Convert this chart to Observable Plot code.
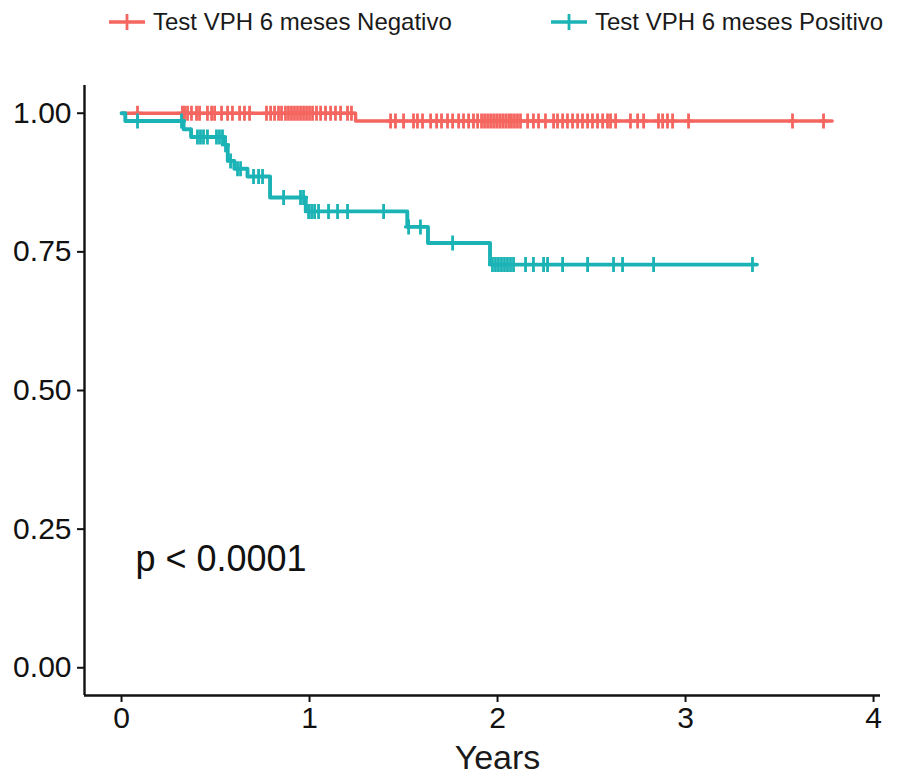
<!DOCTYPE html>
<html>
<head>
<meta charset="utf-8">
<script src="https://cdn.jsdelivr.net/npm/d3@7"></script>
<script src="https://cdn.jsdelivr.net/npm/@observablehq/plot@0.6"></script>
<style>
  html, body { margin: 0; padding: 0; background: white; }
  body { width: 903px; height: 778px; overflow: hidden; font-family: "Liberation Sans", Arial, Helvetica, sans-serif; }
  #legend { position: relative; height: 50px; width: 903px; font-size: 24px; color: #1a1a1a; }
  .item { position: absolute; top: 8px; display: flex; align-items: center; white-space: nowrap; }
  .item svg { margin-right: 7px; }
  #chart { position: absolute; top: 50px; left: 0; }
</style>
</head>
<body>
<div id="legend"></div>
<div id="chart"></div>
<script>
// ---- Data ----
const groups = ["Test VPH 6 meses Negativo", "Test VPH 6 meses Positivo"];
const colors = ["#F4665F", "#1BB3B5"];

// Negativo: step times and survival
const negTimes = [0, 1.245];
const negSurv  = [1.0, 0.986];
const negEnd   = 3.78;
const negCensor = [
  0.085, 0.324, 0.335, 0.351, 0.372, 0.399, 0.415, 0.457, 0.479, 0.495,
  0.532, 0.564, 0.590, 0.628, 0.654, 0.681, 0.771, 0.793, 0.814, 0.835,
  0.851, 0.872, 0.888, 0.904, 0.920, 0.936, 0.952, 0.968, 0.984, 1.000,
  1.016, 1.037, 1.059, 1.085, 1.112, 1.138, 1.165, 1.202, 1.223,
  1.431, 1.457, 1.500, 1.553, 1.574, 1.601, 1.644, 1.676, 1.702, 1.734,
  1.761, 1.793, 1.819, 1.846, 1.872, 1.894, 1.915, 1.931, 1.947, 1.963,
  1.979, 1.995, 2.011, 2.027, 2.043, 2.059, 2.074, 2.090, 2.106, 2.122,
  2.160, 2.191, 2.218, 2.255, 2.298, 2.319, 2.346, 2.372, 2.399, 2.426,
  2.452, 2.479, 2.505, 2.532, 2.559, 2.585, 2.601, 2.628, 2.707, 2.745,
  2.777, 2.856, 2.878, 2.904, 2.931, 3.016, 3.569, 3.734
];

// Positivo: step times and survival
const posTimes = [0, 0.02, 0.33, 0.37, 0.55, 0.565, 0.60, 0.67, 0.79, 0.98, 1.52, 1.63, 1.96];
const posSurv  = [1.0, 0.986, 0.971, 0.957, 0.943, 0.914, 0.900, 0.886, 0.848, 0.823, 0.795, 0.766, 0.727];
const posEnd   = 3.38;
const posCensor = [
  0.085, 0.319, 0.404, 0.420, 0.436, 0.457, 0.505, 0.521, 0.537, 0.553,
  0.580, 0.617, 0.633, 0.702, 0.729, 0.750, 0.862, 0.952, 0.968, 0.995,
  1.011, 1.027, 1.048, 1.101, 1.149, 1.202, 1.394, 1.527, 1.590, 1.761,
  1.973, 1.989, 2.005, 2.021, 2.037, 2.053, 2.069, 2.085, 2.149, 2.191,
  2.245, 2.266, 2.346, 2.479, 2.617, 2.665, 2.830, 3.356
];

const xTicks = [0, 1, 2, 3, 4];
const yTicks = [0, 0.25, 0.5, 0.75, 1];
const xDomain = [-0.197, 4.037];
const yDomain = [-0.05, 1.05];
const xLabel = "Years";
const pValueLabel = "p < 0.0001";
const pValuePos = [0.074, 0.196];

// ---- Build tables ----
function survAt(times, surv, t) {
  let s = surv[0];
  for (let i = 0; i < times.length; i++) if (times[i] <= t) s = surv[i];
  return s;
}
function curve(times, surv, end, group) {
  const pts = times.map((t, i) => ({time: t, surv: surv[i], group}));
  pts.push({time: end, surv: surv[surv.length - 1], group});
  return pts;
}
const lineData = [
  ...curve(negTimes, negSurv, negEnd, groups[0]),
  ...curve(posTimes, posSurv, posEnd, groups[1])
];
const censorData = [
  ...negCensor.map(t => ({time: t, surv: survAt(negTimes, negSurv, t), group: groups[0]})),
  ...posCensor.map(t => ({time: t, surv: survAt(posTimes, posSurv, t), group: groups[1]}))
];

const censorSymbol = {
  draw(ctx, size) {
    const r = Math.sqrt(size / Math.PI);
    ctx.moveTo(0, -r); ctx.lineTo(0, r);
    ctx.moveTo(-r * 0.6, 0); ctx.lineTo(r * 0.6, 0);
  }
};

const FONT = '"Liberation Sans", Arial, Helvetica, sans-serif';

const chart = Plot.plot({
  width: 903,
  height: 728,
  marginLeft: 84,
  marginRight: 23,
  marginTop: 35,
  marginBottom: 83,
  x: {domain: xDomain},
  y: {domain: yDomain},
  color: {domain: groups, range: colors},
  style: {fontFamily: FONT, fontSize: "29px", color: "#111", background: "white", overflow: "visible"},
  marks: [
    Plot.axisX({ticks: xTicks, tickFormat: d => String(d), tickSize: 7, tickPadding: 4, label: null, strokeWidth: 2, fontSize: 30}),
    Plot.axisY({ticks: yTicks, tickFormat: d => d.toFixed(2), tickSize: 7, tickPadding: 6, label: null, strokeWidth: 2, fontSize: 30}),
    Plot.ruleX([xDomain[0]], {stroke: "#111", strokeWidth: 2.4}),
    Plot.ruleY([yDomain[0]], {stroke: "#111", strokeWidth: 2.4}),
    Plot.line(lineData.filter(d => d.group === groups[0]), {x: "time", y: "surv", stroke: "group", strokeWidth: 3.4, curve: "step-after"}),
    Plot.dot(censorData.filter(d => d.group === groups[0]), {x: "time", y: "surv", stroke: "group", symbol: censorSymbol, r: 7.5, strokeWidth: 2.8, fill: "none"}),
    Plot.line(lineData.filter(d => d.group === groups[1]), {x: "time", y: "surv", stroke: "group", strokeWidth: 3.9, curve: "step-after"}),
    Plot.dot(censorData.filter(d => d.group === groups[1]), {x: "time", y: "surv", stroke: "group", symbol: censorSymbol, r: 7.5, strokeWidth: 2.8, fill: "none"}),
    Plot.text([pValueLabel], {x: pValuePos[0], y: pValuePos[1], text: d => d, textAnchor: "start", fontSize: 36, fill: "#111"}),
    Plot.text([xLabel], {frameAnchor: "bottom", dx: 15, dy: 63, lineAnchor: "middle", text: d => d, fontSize: 34, fill: "#1a1a1a"})
  ]
});
document.getElementById("chart").appendChild(chart);

// ---- Legend ----
const legend = document.getElementById("legend");
const legendX = [108, 550];
groups.forEach((g, i) => {
  const item = document.createElement("div");
  item.className = "item";
  item.style.left = legendX[i] + "px";
  item.innerHTML = `<svg width="38" height="26"><line x1="1" x2="37" y1="13" y2="13" stroke="${colors[i]}" stroke-width="3.4"/><line x1="19" x2="19" y1="5" y2="21" stroke="${colors[i]}" stroke-width="2.8"/></svg><span>${g}</span>`;
  legend.appendChild(item);
});
</script>
</body>
</html>
